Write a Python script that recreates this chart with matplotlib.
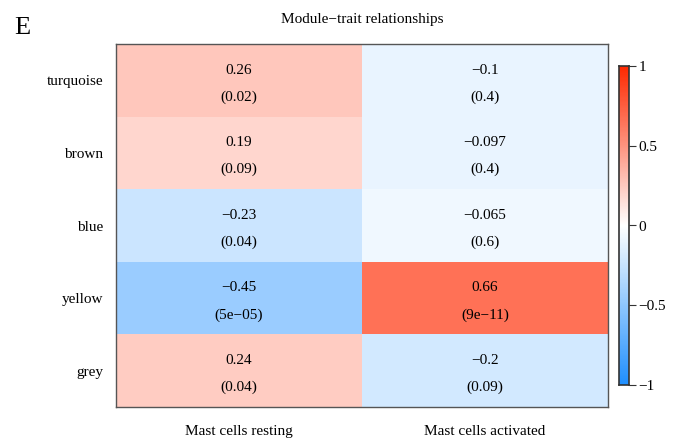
import numpy as np
import matplotlib
matplotlib.use("Agg")
import matplotlib.pyplot as plt
from matplotlib.colors import LinearSegmentedColormap

plt.rcParams["font.family"] = ["Liberation Serif", "DejaVu Serif"]

modules = ["turquoise", "brown", "blue", "yellow", "grey"]
traits = ["Mast cells resting", "Mast cells activated"]
cor_resting = [0.26, 0.19, -0.23, -0.45, 0.24]
cor_activated = [-0.1, -0.097, -0.065, 0.66, -0.2]
p_resting = ["0.02", "0.09", "0.04", "5e\u221205", "0.04"]
p_activated = ["0.4", "0.4", "0.6", "9e\u221211", "0.09"]
cbar_ticks = [-1, -0.5, 0, 0.5, 1]


def fmt(v):
    s = f"{v:g}"
    return s.replace("-", "\u2212")


cmap = LinearSegmentedColormap.from_list(
    "bwr_mod", [(0.12, 0.56, 1.0), (1, 1, 1), (1.0, 0.16, 0.0)], N=256)

fig = plt.figure(figsize=(6.75, 4.44), dpi=100)
W, H = 675, 444
ax = fig.add_axes([116 / W, 1 - 407 / H, (608 - 116) / W, (407 - 44) / H])

mat = np.array([cor_resting, cor_activated]).T
ax.pcolormesh(np.arange(len(traits) + 1), np.arange(len(modules) + 1), mat,
              cmap=cmap, vmin=-1, vmax=1)
ax.set_xlim(0, len(traits))
ax.set_ylim(len(modules), 0)
for s in ax.spines.values():
    s.set_color("#555555")
    s.set_linewidth(1.0)

fs = 11
pvals = [p_resting, p_activated]
for j in range(len(traits)):
    for i in range(len(modules)):
        ax.text(j + 0.5, i + 0.36, fmt(mat[i, j]), ha="center", va="center",
                fontsize=fs)
        ax.text(j + 0.5, i + 0.73, f"({pvals[j][i]})", ha="center",
                va="center", fontsize=fs)

ax.set_xticks(np.arange(len(traits)) + 0.5)
ax.set_xticklabels(traits, fontsize=fs)
ax.set_yticks(np.arange(len(modules)) + 0.5)
ax.set_yticklabels(modules, fontsize=fs)
ax.tick_params(axis="y", length=0, pad=9)
ax.tick_params(axis="x", length=0, pad=13)

ax.set_title("Module\u2212trait relationships", fontsize=fs, pad=15)
fig.text(22 / W, 1 - 28 / H, "E", fontsize=19, ha="center", va="center")

cax = fig.add_axes([619 / W, 1 - 385 / H, 10 / W, (385 - 66) / H])
grad = np.linspace(-1, 1, 256).reshape(-1, 1)
cax.pcolormesh([0, 1], np.linspace(-1, 1, 257), grad, cmap=cmap,
               vmin=-1, vmax=1)
cax.set_ylim(-1, 1)
cax.set_xticks([])
cax.yaxis.tick_right()
cax.set_yticks(cbar_ticks)
cax.set_yticklabels([fmt(t) for t in cbar_ticks], fontsize=fs)
cax.tick_params(axis="y", length=5, pad=2, color="#333333")
for s in cax.spines.values():
    s.set_color("#333333")
    s.set_linewidth(1.2)

fig.savefig("out.png", dpi=100)
